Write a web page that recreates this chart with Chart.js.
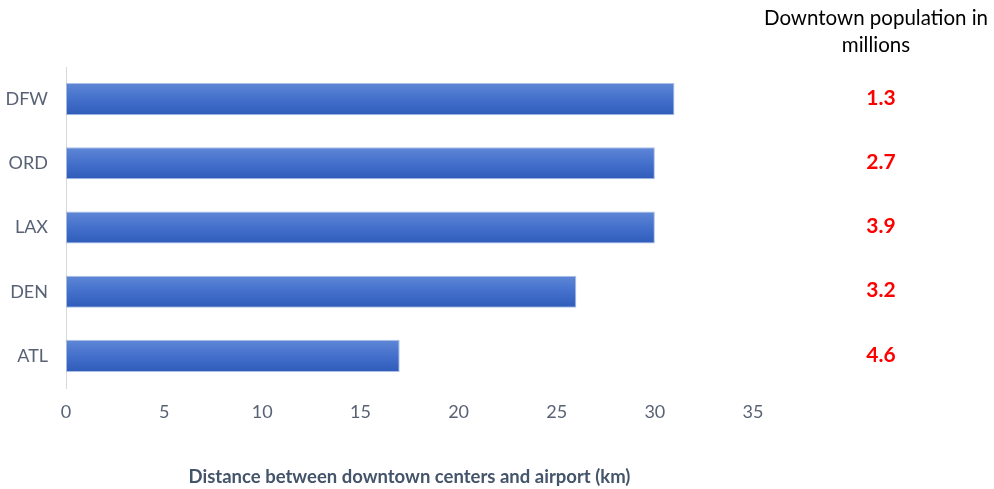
<!DOCTYPE html>
<html>
<head>
<meta charset="utf-8">
<script src="https://cdn.jsdelivr.net/npm/chart.js@4"></script>
<style>
  html, body { margin: 0; padding: 0; background: #fff; }
  #wrap { width: 994px; height: 489px; }
</style>
</head>
<body>
<div id="wrap"><canvas id="distChart" width="994" height="489"></canvas></div>
<script>
// airports, distance downtown -> airport (km), downtown population (millions)
const airports = ['DFW', 'ORD', 'LAX', 'DEN', 'ATL'];
const distanceKm = [31, 30, 30, 26, 17];
const populationM = ['1.3', '2.7', '3.9', '3.2', '4.6'];
const xTicks = [0, 5, 10, 15, 20, 25, 30, 35];

const FONT = 'Lato, "Open Sans", sans-serif';

// vertical gradient per bar, light on top, darker at the bottom
function barGradient(context) {
  const chart = context.chart;
  const yScale = chart.scales.y;
  if (!chart.chartArea || !yScale) return '#4472c4';
  const center = yScale.getPixelForValue(context.dataIndex);
  const half = (yScale.height / airports.length) * 0.25;
  const g = chart.ctx.createLinearGradient(0, center - half, 0, center + half);
  g.addColorStop(0, '#5f87d6');
  g.addColorStop(0.5, '#4470cc');
  g.addColorStop(1, '#2f5cb9');
  return g;
}

// population column on the right side
const populationColumn = {
  id: 'populationColumn',
  afterDraw(chart) {
    const ctx = chart.ctx;
    const yScale = chart.scales.y;
    const cx = 876;
    ctx.save();
    ctx.textAlign = 'center';
    ctx.textBaseline = 'middle';
    ctx.fillStyle = '#000';
    ctx.font = '20.5px ' + FONT;
    ctx.fillText('Downtown population in', cx, 18);
    ctx.fillText('millions', cx, 45);
    ctx.fillStyle = '#ff0000';
    ctx.font = 'bold 21px ' + FONT;
    populationM.forEach((p, i) => {
      ctx.fillText(p, cx + 5, yScale.getPixelForValue(i) - 1);
    });
    ctx.restore();
  }
};

new Chart(document.getElementById('distChart'), {
  type: 'bar',
  data: {
    labels: airports,
    datasets: [{
      data: distanceKm,
      backgroundColor: barGradient,
      borderColor: 'rgba(150,175,225,0.8)',
      borderWidth: 1,
      borderSkipped: false,
      barPercentage: 0.5,
      categoryPercentage: 1.0
    }]
  },
  options: {
    indexAxis: 'y',
    responsive: false,
    animation: false,
    layout: { padding: { top: 67, right: 241, left: 0, bottom: 0 } },
    plugins: {
      legend: { display: false },
      tooltip: { enabled: false }
    },
    scales: {
      x: {
        min: 0,
        max: 35,
        afterBuildTicks(scale) { scale.ticks = xTicks.map(v => ({ value: v })); },
        afterFit(scale) { scale.height = 101; },
        grid: { display: false, drawTicks: false },
        border: { display: false },
        ticks: {
          color: '#596275',
          padding: 13,
          font: { family: FONT, size: 18 }
        },
        title: {
          display: true,
          text: 'Distance between downtown centers and airport (km)',
          color: '#44546a',
          font: { family: FONT, size: 18.5, weight: 'bold' },
          padding: { top: 0, bottom: 1 }
        }
      },
      y: {
        afterFit(scale) { scale.width = 66; },
        grid: { display: false, drawTicks: false },
        border: { display: true, color: '#d9d9d9', width: 1 },
        ticks: {
          color: '#596275',
          padding: 18,
          font: { family: FONT, size: 18 }
        }
      }
    }
  },
  plugins: [populationColumn]
});
</script>
</body>
</html>
